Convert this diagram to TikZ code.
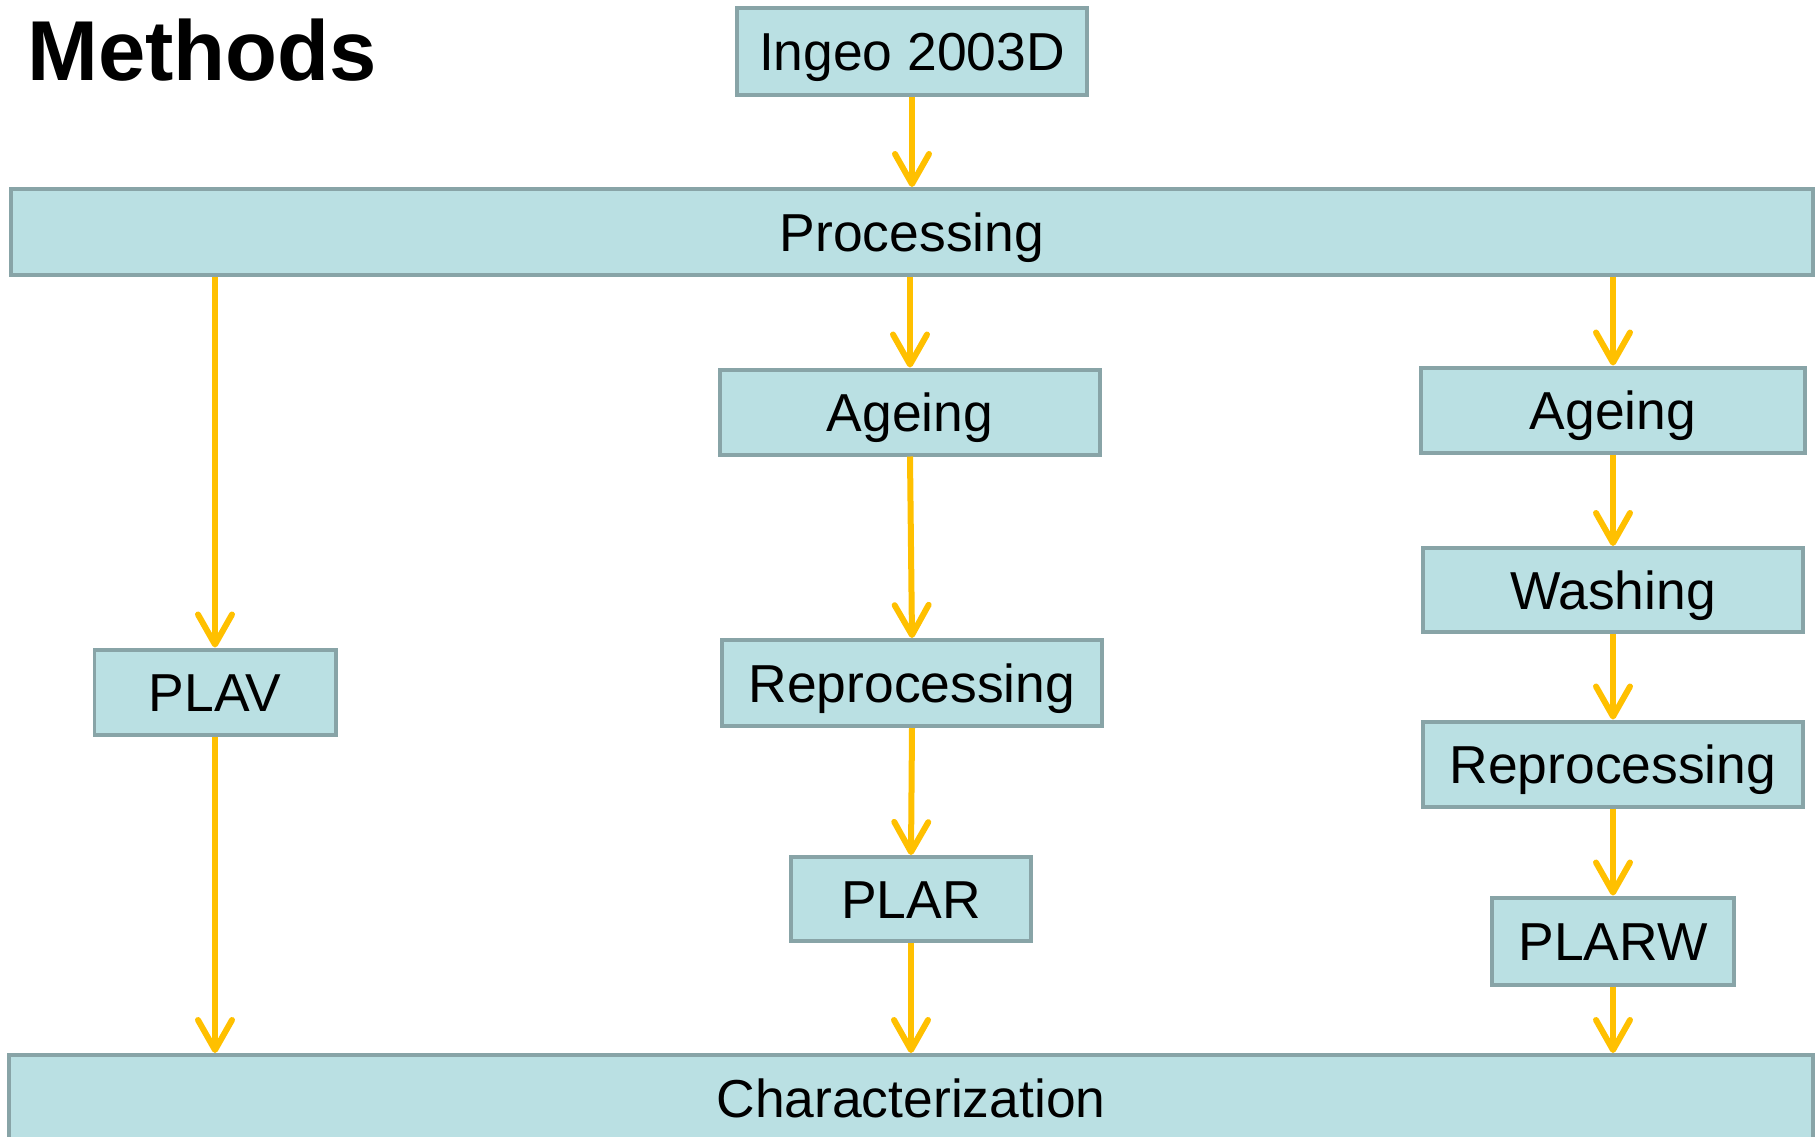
\documentclass[tikz,border=0pt]{standalone}
\usepackage{fontspec}
\setmainfont{Liberation Sans}
\usetikzlibrary{arrows.meta, positioning}
\definecolor{boxfill}{HTML}{BAE0E3}
\definecolor{boxline}{HTML}{88A4A7}
\definecolor{arrowgold}{HTML}{FFC000}

\tikzset{
	stepbox/.style={draw=boxline, fill=boxfill, line width=0.04cm, inner sep=0pt,
		text height=10.9pt, text depth=0pt,
		font=\fontsize{15.2}{18}\selectfont},
	flow/.style={draw=arrowgold, line width=0.06cm,
		-{Straight Barb[length=0.3cm, width=0.34cm, round]}}
}

\begin{document}
\begin{tikzpicture}
		\useasboundingbox (0,0) rectangle (18.15,-11.37);
		
		\node [anchor=base west, font=\fontsize{24.2}{28}\selectfont\bfseries] (title) at (0.15,-0.80) {Methods};
		
		\node [stepbox, minimum width=3.5cm, minimum height=0.87cm] (ingeo) at (9.12,-0.51) {Ingeo 2003D};
		\node [stepbox, minimum width=18.01cm, minimum height=0.86cm] (proc) at (9.12,-2.32) {Processing};
		\node [stepbox, minimum width=18.04cm, minimum height=0.86cm] (char) at (9.11,-10.98) {Characterization};
		
		% left branch
		\node [stepbox, minimum width=2.41cm, minimum height=0.85cm] (plav) at (2.15,-6.92) {PLAV};
		
		% middle branch
		\node [stepbox, minimum width=3.8cm, minimum height=0.85cm] (agemid) at (9.10,-4.12) {Ageing};
		\node [stepbox, minimum width=3.8cm, minimum height=0.86cm] (repmid) at (9.12,-6.83) {Reprocessing};
		\node [stepbox, minimum width=2.4cm, minimum height=0.84cm] (plar) at (9.11,-8.99) {PLAR};
		
		% right branch
		\node [stepbox, minimum width=3.84cm, minimum height=0.85cm] (ageright) at (16.13,-4.10) {Ageing};
		\node [stepbox, minimum width=3.8cm, minimum height=0.84cm] (wash) at (16.13,-5.90) {Washing};
		\node [stepbox, minimum width=3.8cm, minimum height=0.85cm] (repright) at (16.13,-7.64) {Reprocessing};
		\node [stepbox, minimum width=2.42cm, minimum height=0.87cm] (plarw) at (16.13,-9.41) {PLARW};
		
		\draw [flow] (ingeo) -- (proc);
		
		\draw [flow] (proc.south -| plav) -- (plav);
		\draw [flow] (plav) -- (plav |- char.north);
		
		\draw [flow] (proc.south -| agemid) -- (agemid);
		\draw [flow] (agemid.south) -- (repmid.north);
		\draw [flow] (repmid.south) -- (plar.north);
		\draw [flow] (plar) -- (plar |- char.north);
		
		\draw [flow] (proc.south -| ageright) -- (ageright);
		\draw [flow] (ageright) -- (wash);
		\draw [flow] (wash) -- (repright);
		\draw [flow] (repright) -- (plarw);
		\draw [flow] (plarw) -- (plarw |- char.north);
	\end{tikzpicture}
\end{document}
